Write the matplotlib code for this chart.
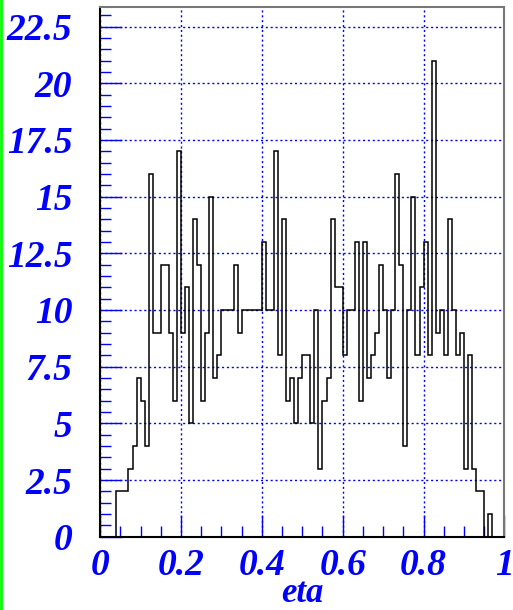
import numpy as np
import matplotlib
matplotlib.use("Agg")
import matplotlib.pyplot as plt
from matplotlib.lines import Line2D
from matplotlib.ticker import MultipleLocator, FormatStrFormatter

# histogram of eta, 100 bins from 0 to 1
bin_lo = 0.0
bin_hi = 1.0
n_bins = 100
counts = [0, 0, 0, 0, 2, 2, 2, 3, 4, 7,
          6, 4, 16, 9, 9, 12, 12, 9, 6, 17,
          9, 11, 5, 14, 12, 6, 9, 15, 7, 8,
          10, 10, 10, 12, 9, 10, 10, 10, 10, 10,
          13, 10, 10, 17, 8, 14, 6, 7, 5, 7,
          8, 8, 5, 10, 3, 6, 7, 14, 11, 11,
          8, 10, 10, 13, 6, 13, 7, 8, 9, 12,
          10, 7, 10, 16, 12, 4, 10, 15, 8, 11,
          13, 8, 21, 9, 10, 8, 14, 10, 8, 9,
          3, 8, 3, 2, 2, 0, 1, 0, 0, 0]
x_title = "eta"
y_max = 23.35

edges = np.linspace(bin_lo, bin_hi, n_bins + 1)

fig = plt.figure(figsize=(5.13, 6.10), dpi=100)
ax = fig.add_axes([0.1953, 0.1202, 0.7879, 0.8678])

ax.stairs(counts, edges, color="black", linewidth=1.1, zorder=3)

ax.set_xlim(bin_lo, bin_hi)
ax.set_ylim(0, y_max)

blue = "#0000ff"
font = dict(family="Liberation Serif", weight="bold", style="italic", size=27)

ax.xaxis.set_major_locator(MultipleLocator(0.2))
ax.xaxis.set_minor_locator(MultipleLocator(0.05))
ax.yaxis.set_major_locator(MultipleLocator(2.5))
ax.yaxis.set_minor_locator(MultipleLocator(0.5))
ax.xaxis.set_major_formatter(FormatStrFormatter("%g"))
ax.yaxis.set_major_formatter(FormatStrFormatter("%g"))

ax.tick_params(which="both", direction="in", colors=blue, top=False, right=False)
ax.tick_params(which="major", length=16, width=1.0)
ax.tick_params(which="minor", length=8, width=1.0)
ax.tick_params(axis="x", which="major", pad=8)
ax.tick_params(axis="y", which="major", pad=20)
for lab in ax.get_xticklabels() + ax.get_yticklabels():
    lab.set_fontproperties(font)
    lab.set_color(blue)

ax.grid(True, which="major", color=blue, linestyle=(0, (1.5, 2.0)), linewidth=1.0)
ax.set_axisbelow(True)

ax.spines["left"].set_color("black")
ax.spines["bottom"].set_color("black")
ax.spines["top"].set_color("#777777")
ax.spines["right"].set_color("#777777")
for s in ax.spines.values():
    s.set_linewidth(1.5)

ax.set_xlabel(x_title, color=blue, labelpad=-4, family="Liberation Serif",
              weight="bold", style="italic", size=25)

# green border line at the left edge
fig.add_artist(Line2D([1.0 / 513, 1.0 / 513], [0, 1], transform=fig.transFigure,
                      color="#00ff00", linewidth=2))

fig.savefig("out.png", dpi=100)
